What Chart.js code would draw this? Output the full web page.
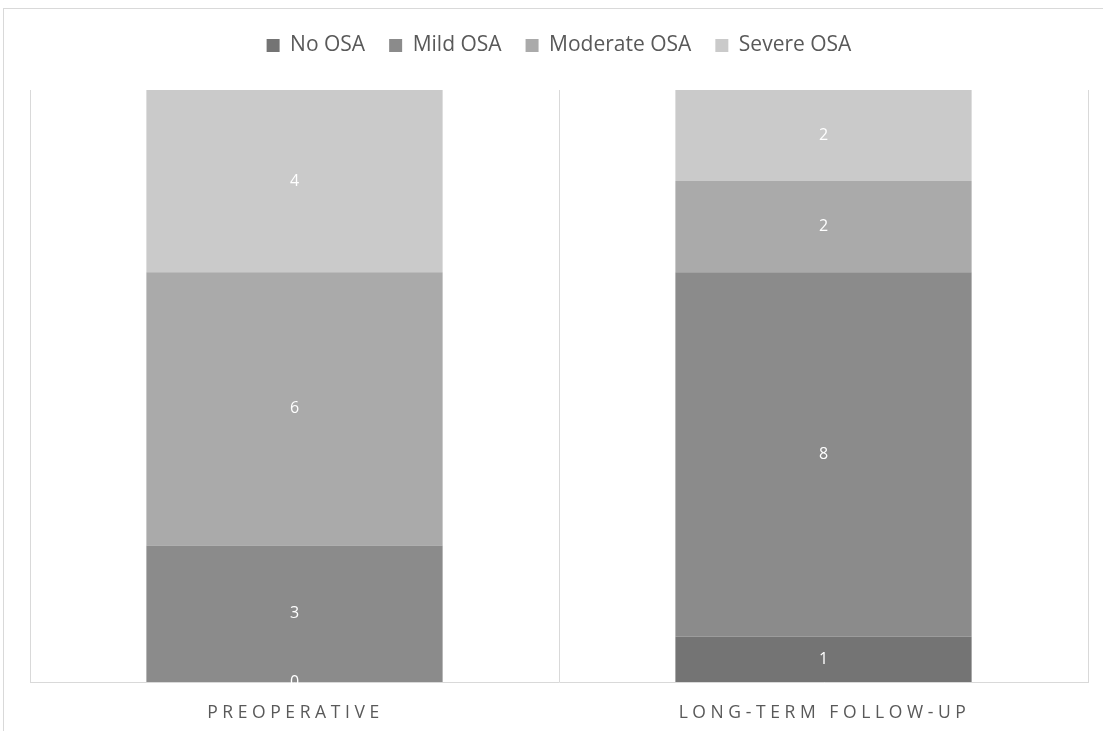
<!DOCTYPE html>
<html>
<head>
<meta charset="utf-8">
<script src="https://cdn.jsdelivr.net/npm/chart.js@4.4.1/dist/chart.umd.min.js"></script>
<style>
  html, body { margin: 0; padding: 0; background: #ffffff; }
  #wrap { position: relative; width: 1103px; height: 731px; overflow: hidden; }
  #frame { position: absolute; left: 3px; top: 8px; width: 1200px; height: 800px;
           border-top: 1px solid #d9d9d9; border-left: 1px solid #d9d9d9; }
  canvas { position: absolute; left: 0; top: 0; }
</style>
</head>
<body>
<div id="wrap">
  <div id="frame"></div>
  <canvas id="chart" width="1103" height="731"></canvas>
</div>
<script>
// Patients by OSA severity, before surgery and at long-term follow-up
const categories = ['PREOPERATIVE', 'LONG-TERM FOLLOW-UP'];
const noOSA       = [0, 1];
const mildOSA     = [3, 8];
const moderateOSA = [6, 2];
const severeOSA   = [4, 2];
const yMax = 13;

const FONT = '"Open Sans", "Liberation Sans", sans-serif';

// White value labels centred in each stacked segment
const segmentLabels = {
  id: 'segmentLabels',
  afterDatasetsDraw(chart) {
    const ctx = chart.ctx;
    ctx.save();
    ctx.fillStyle = '#ffffff';
    ctx.font = '16px ' + FONT;
    ctx.textAlign = 'center';
    ctx.textBaseline = 'middle';
    chart.data.datasets.forEach((ds, i) => {
      const meta = chart.getDatasetMeta(i);
      meta.data.forEach((bar, j) => {
        const p = bar.getProps(['x', 'y', 'base'], true);
        ctx.fillText(String(ds.data[j]), p.x, (p.y + p.base) / 2);
      });
    });
    ctx.restore();
  }
};

// Letter-spaced category names under the axis
const categoryNames = {
  id: 'categoryNames',
  afterDraw(chart) {
    const ctx = chart.ctx;
    const xs = chart.scales.x;
    ctx.save();
    ctx.fillStyle = '#595959';
    ctx.font = '17.5px ' + FONT;
    ctx.letterSpacing = '4.6px';
    ctx.textAlign = 'center';
    ctx.textBaseline = 'middle';
    categories.forEach((c, i) => {
      ctx.fillText(c, xs.getPixelForValue(i) + 1, chart.chartArea.bottom + 31);
    });
    ctx.restore();
  }
};

// Extra gap between the legend and the plot area
const legendGap = {
  id: 'legendGap',
  afterInit(chart) {
    const legend = chart.legend;
    const fit = legend.fit;
    legend.fit = function () {
      fit.call(this);
      this.height += 24;
    };
  }
};

new Chart(document.getElementById('chart'), {
  type: 'bar',
  data: {
    labels: categories,
    datasets: [
      { label: 'No OSA',       data: noOSA,       backgroundColor: '#747474' },
      { label: 'Mild OSA',     data: mildOSA,     backgroundColor: '#8b8b8b' },
      { label: 'Moderate OSA', data: moderateOSA, backgroundColor: '#aaaaaa' },
      { label: 'Severe OSA',   data: severeOSA,   backgroundColor: '#cacaca' }
    ]
  },
  options: {
    responsive: false,
    animation: false,
    layout: { padding: { left: 30, right: 15, top: 11, bottom: 49 } },
    datasets: { bar: { categoryPercentage: 0.56, barPercentage: 1, borderWidth: 0 } },
    scales: {
      x: {
        stacked: true,
        grid: { display: true, offset: true, color: '#d9d9d9', lineWidth: 1, drawTicks: false },
        border: { display: true, color: '#d9d9d9' },
        ticks: { display: false }
      },
      y: {
        stacked: true,
        display: false,
        min: 0,
        max: yMax
      }
    },
    plugins: {
      legend: {
        position: 'top',
        labels: {
          color: '#595959',
          font: { family: FONT, size: 21 },
          boxWidth: 13,
          boxHeight: 13,
          padding: 24
        }
      },
      tooltip: { enabled: false }
    }
  },
  plugins: [segmentLabels, categoryNames, legendGap]
});
</script>
</body>
</html>
